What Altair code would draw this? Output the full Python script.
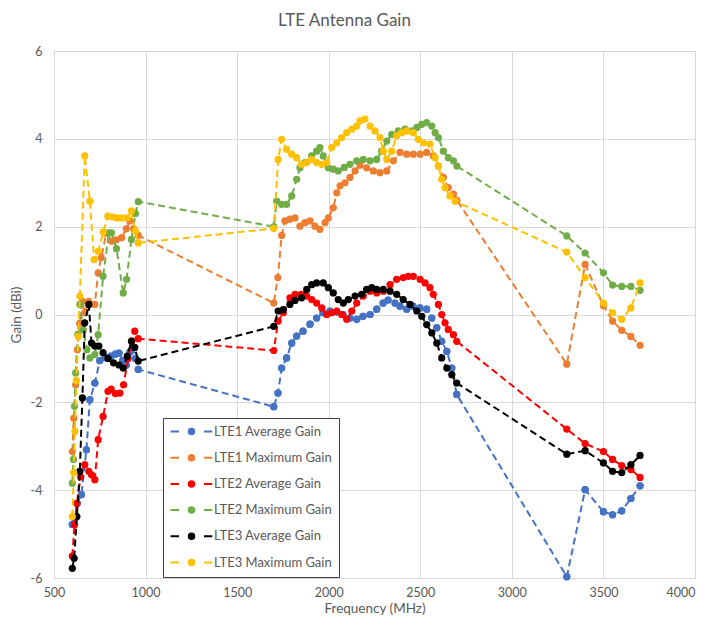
import altair as alt
import pandas as pd

series_names = ["LTE1 Average Gain", "LTE1 Maximum Gain", "LTE2 Average Gain",
                "LTE2 Maximum Gain", "LTE3 Average Gain", "LTE3 Maximum Gain"]
series_colors = ["#4472C4", "#ED7D31", "#FF0000", "#70AD47", "#000000", "#FFC000"]

x_ticks = [500, 1000, 1500, 2000, 2500, 3000, 3500, 4000]
y_ticks = [-6, -4, -2, 0, 2, 4, 6]

high_band_freq = [3300, 3400, 3500, 3550, 3600, 3650, 3700]

# LTE1 Average Gain
lte1_avg_low_freq = [600, 614, 627, 650, 677, 696, 723, 750, 780, 810, 835, 855, 875, 895, 915, 930, 945, 960]
lte1_avg_low_gain = [-4.78, -4.64, -4.3, -4.1, -3.08, -1.94, -1.56, -1.05, -0.98, -0.95, -0.9, -0.88, -1.05, -1.15, -0.85, -0.75, -1.0, -1.25]
lte1_avg_mid_freq = [1700, 1723, 1743, 1770, 1798, 1825, 1860, 1898, 1934, 1969, 2007, 2044, 2078, 2116, 2153, 2187,
                     2226, 2262, 2297, 2324, 2362, 2389, 2426, 2460, 2498, 2535, 2563, 2590, 2617, 2645, 2672, 2699]
lte1_avg_mid_gain = [-2.1, -1.79, -1.22, -0.99, -0.65, -0.49, -0.38, -0.22, -0.08, 0.04, 0.08, 0.06, 0.0, -0.08, -0.11, -0.04,
                     0.0, 0.12, 0.26, 0.33, 0.26, 0.19, 0.12, 0.19, 0.15, 0.12, -0.08, -0.3, -0.61, -0.84, -1.22, -1.82]
lte1_avg_high_gain = [-5.97, -3.99, -4.49, -4.56, -4.47, -4.19, -3.9]

# LTE1 Maximum Gain
lte1_max_low_freq = [600, 608, 618, 628, 640, 655, 668, 690, 723, 741, 758, 785, 814, 840, 869, 895, 914, 935, 960]
lte1_max_low_gain = [-3.12, -2.36, -1.6, -0.8, -0.2, 0.3, 0.04, 0.3, 0.23, 0.95, 1.3, 1.85, 1.67, 1.7, 1.75, 1.95, 2.13, 1.95, 1.8]
lte1_max_mid_freq = [1700, 1722, 1743, 1761, 1788, 1816, 1843, 1870, 1898, 1925, 1952, 1980, 1998, 2025, 2044, 2062, 2089, 2116,
                     2144, 2171, 2207, 2244, 2280, 2317, 2353, 2389, 2426, 2462, 2499, 2535, 2571, 2599, 2626, 2653, 2681, 2700]
lte1_max_mid_gain = [0.26, 0.84, 1.8, 2.13, 2.17, 2.2, 2.01, 2.09, 2.13, 2.01, 1.94, 2.09, 2.2, 2.43, 2.77, 2.93, 3.0, 3.12,
                     3.27, 3.4, 3.34, 3.27, 3.23, 3.27, 3.5, 3.69, 3.65, 3.65, 3.65, 3.69, 3.61, 3.38, 3.12, 2.89, 2.74, 2.6]
lte1_max_high_gain = [-1.13, 1.14, 0.2, -0.15, -0.36, -0.5, -0.7]

# LTE2 Average Gain
lte2_avg_low_freq = [600, 612, 625, 645, 668, 690, 705, 723, 741, 768, 795, 812, 835, 860, 880, 905, 925, 941, 960]
lte2_avg_low_gain = [-5.5, -4.79, -4.3, -3.7, -3.42, -3.57, -3.65, -3.76, -2.85, -2.32, -1.75, -1.7, -1.8, -1.79, -1.6, -1.0, -0.6, -0.38, -0.55]
lte2_avg_mid_freq = [1700, 1724, 1752, 1788, 1816, 1850, 1880, 1907, 1934, 1962, 1989, 2016, 2044, 2071, 2098, 2126, 2153, 2189,
                     2226, 2262, 2298, 2335, 2371, 2407, 2435, 2462, 2499, 2526, 2553, 2571, 2599, 2617, 2635, 2653, 2681, 2699]
lte2_avg_mid_gain = [-0.82, -0.15, 0.04, 0.38, 0.46, 0.46, 0.42, 0.34, 0.26, 0.15, 0.0, 0.04, 0.08, 0.0, -0.11, 0.08, 0.26, 0.42,
                     0.53, 0.49, 0.53, 0.68, 0.8, 0.84, 0.87, 0.87, 0.8, 0.72, 0.61, 0.46, 0.23, 0.0, -0.19, -0.34, -0.46, -0.61]
lte2_avg_high_gain = [-2.61, -2.94, -3.12, -3.3, -3.44, -3.53, -3.71]

# LTE2 Maximum Gain
lte2_max_low_freq = [600, 606, 612, 618, 630, 641, 660, 680, 696, 723, 741, 768, 800, 814, 841, 878, 896, 923, 945, 960]
lte2_max_low_gain = [-3.84, -3.3, -2.09, -1.33, -0.45, 0.23, -0.35, -0.8, -0.99, -0.91, -0.46, 0.87, 1.86, 1.86, 1.5, 0.49, 0.8, 1.71, 2.3, 2.57]
lte2_max_mid_freq = [1700, 1716, 1743, 1770, 1798, 1825, 1843, 1870, 1907, 1934, 1952, 1970, 1998, 2025, 2052, 2085, 2116, 2153, 2189,
                     2226, 2262, 2289, 2317, 2344, 2380, 2417, 2453, 2481, 2508, 2535, 2563, 2581, 2599, 2626, 2653, 2681, 2700]
lte2_max_mid_gain = [2.0, 2.58, 2.51, 2.51, 2.7, 3.08, 3.34, 3.46, 3.61, 3.72, 3.8, 3.61, 3.34, 3.31, 3.27, 3.35, 3.42, 3.5, 3.53,
                     3.5, 3.53, 3.72, 3.95, 4.1, 4.18, 4.22, 4.18, 4.26, 4.33, 4.37, 4.29, 4.14, 4.03, 3.72, 3.57, 3.5, 3.38]
lte2_max_high_gain = [1.79, 1.4, 0.95, 0.67, 0.64, 0.64, 0.55]

# LTE3 Average Gain
lte3_avg_low_freq = [600, 610, 625, 641, 655, 668, 690, 705, 723, 745, 768, 795, 825, 855, 878, 900, 923, 941, 960]
lte3_avg_low_gain = [-5.78, -5.55, -4.6, -3.57, -1.9, -0.19, 0.23, -0.65, -0.72, -0.72, -0.87, -1.0, -1.1, -1.15, -1.22, -0.95, -0.61, -0.75, -1.06]
lte3_avg_mid_freq = [1700, 1724, 1752, 1788, 1816, 1852, 1880, 1907, 1934, 1970, 1998, 2025, 2052, 2080, 2107, 2144, 2180,
                     2207, 2235, 2262, 2298, 2335, 2371, 2407, 2444, 2481, 2508, 2535, 2563, 2590, 2617, 2645, 2672, 2699]
lte3_avg_mid_gain = [-0.27, 0.08, 0.11, 0.23, 0.32, 0.38, 0.57, 0.68, 0.72, 0.72, 0.61, 0.49, 0.34, 0.26, 0.34, 0.42, 0.46,
                     0.57, 0.61, 0.57, 0.57, 0.53, 0.46, 0.34, 0.23, 0.08, -0.04, -0.23, -0.42, -0.65, -0.99, -1.22, -1.37, -1.56]
lte3_avg_high_gain = [-3.18, -3.1, -3.38, -3.57, -3.6, -3.42, -3.21]

# LTE3 Maximum Gain
lte3_max_low_freq = [600, 608, 614, 622, 632, 641, 668, 696, 719, 741, 769, 794, 820, 845, 870, 900, 923, 945, 960]
lte3_max_low_gain = [-4.6, -3.6, -2.66, -1.5, -0.5, 0.42, 3.61, 2.58, 1.25, 1.44, 1.88, 2.24, 2.22, 2.2, 2.2, 2.2, 2.36, 1.9, 1.63]
lte3_max_mid_freq = [1700, 1724, 1743, 1770, 1798, 1825, 1852, 1880, 1907, 1934, 1962, 1989, 2016, 2044, 2071, 2098, 2126, 2153,
                     2171, 2198, 2226, 2253, 2280, 2298, 2317, 2344, 2371, 2399, 2426, 2462, 2489, 2517, 2553, 2581, 2599,
                     2617, 2635, 2662, 2690]
lte3_max_mid_gain = [1.96, 3.53, 3.99, 3.76, 3.65, 3.57, 3.42, 3.46, 3.53, 3.46, 3.42, 3.46, 3.8, 3.91, 4.03, 4.14, 4.22, 4.29,
                     4.41, 4.45, 4.29, 4.18, 4.03, 3.72, 3.53, 3.72, 4.07, 4.14, 4.18, 4.14, 3.99, 3.91, 3.88, 3.57, 3.38,
                     3.08, 2.89, 2.7, 2.58]
lte3_max_high_gain = [1.42, 0.84, 0.26, 0.04, -0.11, 0.15, 0.72]

series_parts = [
    (lte1_avg_low_freq, lte1_avg_low_gain, lte1_avg_mid_freq, lte1_avg_mid_gain, lte1_avg_high_gain),
    (lte1_max_low_freq, lte1_max_low_gain, lte1_max_mid_freq, lte1_max_mid_gain, lte1_max_high_gain),
    (lte2_avg_low_freq, lte2_avg_low_gain, lte2_avg_mid_freq, lte2_avg_mid_gain, lte2_avg_high_gain),
    (lte2_max_low_freq, lte2_max_low_gain, lte2_max_mid_freq, lte2_max_mid_gain, lte2_max_high_gain),
    (lte3_avg_low_freq, lte3_avg_low_gain, lte3_avg_mid_freq, lte3_avg_mid_gain, lte3_avg_high_gain),
    (lte3_max_low_freq, lte3_max_low_gain, lte3_max_mid_freq, lte3_max_mid_gain, lte3_max_high_gain),
]

rows = []
for idx, (name, parts) in enumerate(zip(series_names, series_parts)):
    lf, lg, mf, mg, hg = parts
    freqs = list(lf) + list(mf) + list(high_band_freq)
    gains = list(lg) + list(mg) + list(hg)
    for f, g in zip(freqs, gains):
        rows.append({"series": name, "idx": idx, "freq": f, "gain": g})
df = pd.DataFrame(rows)

FONT = "Lato"
TXT = "#595959"

color_scale = alt.Scale(domain=series_names, range=series_colors)

# dash - dot - dash legend glyph (unit = half of sqrt(symbolSize) = 5 px)
legend_symbol = ("M-4.2,0L-2.5,0M2.5,0L4.15,0"
                 "M-0.55,0A0.55,0.55,0,1,1,0.55,0A0.55,0.55,0,1,1,-0.55,0Z")

legend = alt.Legend(
    title=None,
    orient="none",
    legendX=109,
    legendY=367,
    symbolType=legend_symbol,
    symbolSize=100,
    symbolStrokeWidth=2,
    symbolOffset=15,
    labelFont=FONT,
    labelFontSize=13,
    labelColor=TXT,
    labelOffset=16,
    rowPadding=11.2,
    padding=7,
    strokeColor="#404040",
    fillColor="#FFFFFF",
)

x_enc = alt.X("freq:Q",
              scale=alt.Scale(domain=[500, 4000], nice=False, zero=False),
              axis=alt.Axis(values=x_ticks, title="Frequency (MHz)", grid=True,
                            gridColor="#D9D9D9", domain=False, ticks=False,
                            format="d", labelFlush=False,
                            labelAlign=alt.condition("datum.value == 4000",
                                                     alt.value("right"), alt.value("center")),
                            labelFont=FONT, labelFontSize=12.5, labelColor=TXT,
                            labelPadding=8, titleFont=FONT, titleFontSize=13.5,
                            titleFontWeight="normal", titleColor=TXT, titlePadding=3))
y_enc = alt.Y("gain:Q",
              scale=alt.Scale(domain=[-6, 6], nice=False),
              axis=alt.Axis(values=y_ticks, title="Gain (dBi)", grid=True,
                            gridColor="#D9D9D9", domain=False, ticks=False,
                            labelExpr="'' + datum.value", labelFlush=False,
                            labelFont=FONT, labelFontSize=12.5, labelColor=TXT,
                            labelPadding=12, titleFont=FONT, titleFontSize=13.5,
                            titleFontWeight="normal", titleColor=TXT, titlePadding=7))
color_enc = alt.Color("series:N", scale=color_scale, legend=legend)

layers = []
for i, name in enumerate(series_names):
    base = alt.Chart(df).transform_filter(alt.datum.series == name)
    pts = base.mark_circle(size=52, opacity=1).encode(
        x=x_enc, y=y_enc, color=color_enc)
    line = base.mark_line(strokeDash=[7, 4], strokeWidth=2).encode(
        x=x_enc, y=y_enc, color=color_enc, order="freq:Q")
    if i == 0:
        layers.append(pts)
    layers.append(line)
    layers.append(pts)

chart = alt.layer(*layers).properties(
    width=641,
    height=527,
    autosize=alt.AutoSizeParams(type="none"),
    padding={"left": 46, "top": 43, "right": 4, "bottom": 43},
    title=alt.TitleParams("LTE Antenna Gain", font=FONT, fontSize=17,
                          fontWeight="normal", color=TXT, anchor="middle",
                          dx=-30, offset=15),
).configure_view(strokeWidth=0).configure(background="#FFFFFF")

chart.save("out.html", embed_options={"renderer": "svg", "actions": False})
